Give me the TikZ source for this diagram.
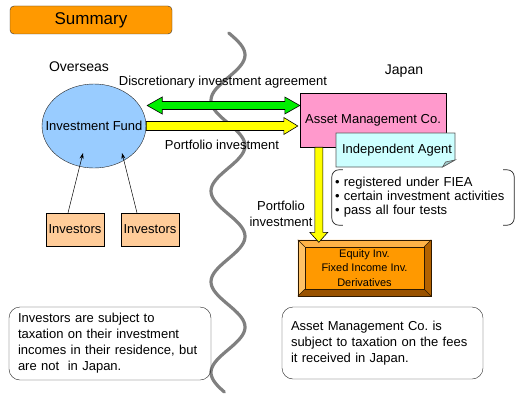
\documentclass[tikz,border=0pt]{standalone}
\usepackage{fontspec}
\setmainfont{Liberation Sans}
\usetikzlibrary{calc,shapes.geometric,arrows.meta}
\definecolor{summaryfill}{HTML}{FF9900}
\definecolor{fundfill}{HTML}{99CCFF}
\definecolor{amcfill}{HTML}{FF99CC}
\definecolor{agentfill}{HTML}{CCFFFF}
\definecolor{agentfold}{HTML}{A3CCCC}
\definecolor{investorfill}{HTML}{FFCC99}
\definecolor{agreegreen}{HTML}{00F000}
\definecolor{flowyellow}{HTML}{FFFF00}
\definecolor{beveltop}{HTML}{FFB347}
\definecolor{bevelleft}{HTML}{FFC266}
\definecolor{bevelright}{HTML}{B36200}
\definecolor{bevelbottom}{HTML}{995200}
\definecolor{wavegray}{HTML}{808080}
\newcommand{\shaft}{4pt}
\newcommand{\headw}{8.5pt}
\newcommand{\headl}{15pt}
\newcommand{\bevel}{7pt}
\newcommand{\txtsize}{\fontsize{13}{16}\selectfont}
\frenchspacing

\tikzset{
  txt/.style={font=\txtsize, inner sep=0pt},
  summarybox/.style={draw=black!80, fill=summaryfill, rounded corners=4pt,
    minimum width=162pt, minimum height=28pt, font=\fontsize{17}{20}\selectfont},
  fundnode/.style={ellipse, draw=black!85, fill=fundfill, minimum width=104pt,
    minimum height=84pt, inner sep=0pt, font=\txtsize},
  amcbox/.style={draw=black, fill=amcfill, minimum width=146pt, minimum height=54pt,
    inner sep=0pt, font=\txtsize},
  investor/.style={draw=black, fill=investorfill, minimum width=58pt, minimum height=33pt,
    inner sep=0pt, font=\txtsize},
  notebox/.style={draw=black!85, rounded corners=11pt, align=left, inner xsep=9pt,
    font=\txtsize},
  blockarrow/.style={draw=black, line width=0.6pt, line join=miter},
  feed/.style={-{Stealth[length=6pt,width=4pt]}, line width=0.5pt},
  wave/.style={draw=wavegray, line width=3.2pt, line cap=round},
  bracket/.style={draw=black!85, line width=0.7pt, rounded corners=7pt},
  bevelline/.style={draw=black!70!bevelbottom, line width=0.5pt}
}

\begin{document}
\begin{tikzpicture}[x=1pt, y=-1pt]
\useasboundingbox (0,0) rectangle (518,401);
\fill[white] (0,0) rectangle (518,401);
% border between the two countries
\draw[wave] plot[domain=33:392, samples=160, smooth] ({228+17*cos(3.969*(\x-55))}, \x);

\node[summarybox] (sum) at (91,20) {Summary};
\node[txt, font=\fontsize{14}{16}\selectfont] (over) at (79,67) {Overseas};
\node[txt, font=\fontsize{14}{16}\selectfont] (jp) at (404,71) {Japan};

\node[fundnode] (fund) at (94,126) {\makebox[0pt]{Investment Fund}};
\node[amcbox] (amc) at (373,120) {Asset Management Co.};
\node[investor] (inv1) at (75,229.5) {Investors};
\node[investor] (inv2) at (150,229.5) {Investors};

\node[txt] (agreelbl) at (223,82) {Discretionary investment agreement};
\node[txt] (pflbl) at (222,145) {Portfolio investment};
\node[txt, align=center] (pflbl2) at (281,213.5) {Portfolio\\investment};

% investors into the fund
\draw[feed] ($(inv1.north)+(-7pt,0pt)$) -- ($(fund.center)+(-11pt,-27pt)$);
\draw[feed] ($(inv2.north)+(-13pt,0pt)$) -- ($(fund.center)+(28pt,-27pt)$);

% agreement, both ways
\coordinate (g1) at ($(fund.east)+(1pt,20.5pt)$);
\coordinate (g2) at ($(amc.west)+(0pt,14.5pt)$);
\draw[blockarrow, fill=agreegreen] (g1) -- ++(\headl,\headw) -- ++(0pt,\shaft-\headw)
  -- ($(g2)+(-\headl,\shaft)$) -- ++(0pt,\headw-\shaft) -- (g2) -- ++(-\headl,-\headw)
  -- ++(0pt,\headw-\shaft) -- ($(g1)+(\headl,-\shaft)$) -- ++(0pt,\shaft-\headw) -- cycle;

% portfolio investment, fund to company
\coordinate (y1) at (fund.east);
\coordinate (y2) at ($(amc.west)+(-2pt,-6pt)$);
\draw[blockarrow, fill=flowyellow] ($(y1)+(0pt,4.5pt)$) -- ($(y2)+(-14pt,4.5pt)$)
  -- ++(0pt,4pt) -- (y2) -- ++(-14pt,-\headw) -- ++(0pt,4pt) -- ($(y1)+(0pt,-4.5pt)$) -- cycle;

% independent agent note
\coordinate (ag) at (395.5,150);
\draw[draw=black!65, fill=agentfill, line width=0.6pt] ($(ag)+(-59.5pt,17pt)$) -- ($(ag)+(59.5pt,17pt)$)
  -- ($(ag)+(59.5pt,-10pt)$) -- ($(ag)+(47pt,-17pt)$) -- ($(ag)+(-59.5pt,-17pt)$) -- cycle;
\draw[draw=black!65, fill=agentfold, line width=0.6pt] ($(ag)+(47pt,-17pt)$) -- ($(ag)+(50pt,-12pt)$)
  -- ($(ag)+(59.5pt,-10pt)$) -- cycle;
\node[txt] (agent) at ($(ag)+(1.5pt,0pt)$) {Independent Agent};

% the tests
\node[font=\fontsize{13}{14}\selectfont, align=left, text width=176pt, inner xsep=3pt,
  minimum width=182pt, minimum height=55pt] (tests) at (423,197.5)
  {• registered under FIEA\\• certain investment activities\\• pass all four tests};
\draw[bracket] ($(tests.north west)+(11pt,0pt)$) -- (tests.north west) -- (tests.south west)
  -- ($(tests.south west)+(11pt,0pt)$);
\draw[bracket] ($(tests.north east)+(-11pt,0pt)$) -- (tests.north east) -- (tests.south east)
  -- ($(tests.south east)+(-11pt,0pt)$);

% investments
\node[fill=summaryfill, minimum width=133pt, minimum height=56pt, inner sep=0pt, align=center,
  font=\fontsize{11}{14.5}\selectfont] (equity) at (364.5,268)
  {Equity Inv.\\Fixed Income Inv.\\Derivatives};
\fill[beveltop] (equity.north west) -- (equity.north east) -- ($(equity.north east)+(-\bevel,-\bevel)$)
  -- ($(equity.north west)+(\bevel,-\bevel)$) -- cycle;
\fill[bevelleft] (equity.north west) -- (equity.south west) -- ($(equity.south west)+(\bevel,\bevel)$)
  -- ($(equity.north west)+(\bevel,-\bevel)$) -- cycle;
\fill[bevelright] (equity.north east) -- (equity.south east) -- ($(equity.south east)+(-\bevel,\bevel)$)
  -- ($(equity.north east)+(-\bevel,-\bevel)$) -- cycle;
\fill[bevelbottom] (equity.south west) -- (equity.south east) -- ($(equity.south east)+(-\bevel,\bevel)$)
  -- ($(equity.south west)+(\bevel,\bevel)$) -- cycle;
\draw[bevelline] (equity.north west) rectangle (equity.south east);
\draw[bevelline] ($(equity.north west)+(\bevel,-\bevel)$) rectangle ($(equity.south east)+(-\bevel,\bevel)$);
\draw[bevelline] (equity.north west) -- ++(\bevel,-\bevel);
\draw[bevelline] (equity.north east) -- ++(-\bevel,-\bevel);
\draw[bevelline] (equity.south west) -- ++(\bevel,\bevel);
\draw[bevelline] (equity.south east) -- ++(-\bevel,\bevel);

% portfolio investment, company down to the investments
\coordinate (v1) at ($(amc.south west)+(19pt,0pt)$);
\coordinate (v2) at ($(equity.north west)+(21pt,-2.5pt)$);
\draw[blockarrow, fill=flowyellow] ($(v1)+(-\shaft,0pt)$) -- ($(v2)+(-\shaft,10pt)$) -- ++(-5pt,0pt)
  -- (v2) -- ++(9pt,10pt) -- ++(-5pt,0pt) -- ($(v1)+(\shaft,0pt)$) -- cycle;

% taxation notes
\node[notebox, text width=184pt, minimum height=73pt] (taxinv) at (110,343.5)
  {Investors are subject to\\taxation on their investment\\incomes in their residence, but\\are not\ \ in Japan.};
\node[notebox, text width=183pt, minimum height=72pt] (taxamc) at (382.5,343)
  {Asset Management Co. is\\subject to taxation on the fees\\it received in Japan.};
\end{tikzpicture}
\end{document}
